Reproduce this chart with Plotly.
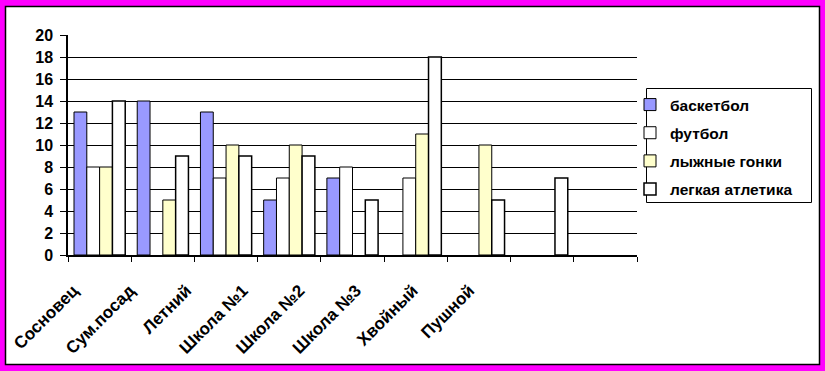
import plotly.graph_objects as go

categories = ["Сосновец", "Сум.посад", "Летний", "Школа №1", "Школа №2",
              "Школа №3", "Хвойный", "Пушной", " "]
series_names = ["баскетбол", "футбол", "лыжные гонки", "легкая атлетика"]
basketball = [13, 14, 13, 5, 7, None, None, None, None]
football = [8, None, 7, 7, 8, 7, None, None, None]
skiing = [8, 5, 10, 10, None, 11, 10, None, None]
athletics = [14, 9, 9, 9, 5, 18, 5, 7, None]
y_ticks = list(range(0, 21, 2))

colors = ["#9999FF", "#FFFFFF", "#FFFFCC", "#FFFFFF"]
values = [basketball, football, skiing, athletics]

W, H = 825, 371
L, R, T, B = 68, 188, 35, 116
pw, ph = W - L - R, H - T - B

fig = go.Figure()
for i, (name, vals, col) in enumerate(zip(series_names, values, colors)):
    fig.add_trace(go.Bar(
        x=categories, y=vals, name=name, legendgroup=str(i),
        marker=dict(color=col, line=dict(color="black", width=1.5 if i == 3 else 1)),
    ))

label_idx = list(range(len(categories)))
# invisible carrier trace so the label axis (x2) is drawn
fig.add_trace(go.Scatter(
    x=label_idx, y=[None] * len(label_idx), xaxis="x2", yaxis="y",
    mode="markers", showlegend=False, hoverinfo="skip",
))

def px_x(p):
    return (p - L) / pw

def px_y(p):
    return (H - B - p) / ph

font = "Liberation Sans, Arial, sans-serif"
fig.update_layout(
    template="none",
    width=W, height=H,
    margin=dict(l=L, r=R, t=T, b=B, autoexpand=False),
    paper_bgcolor="#FF00FF",
    plot_bgcolor="rgba(0,0,0,0)",
    barmode="group", bargap=0.19, bargroupgap=0,
    font=dict(family=font, size=16, color="black"),
    showlegend=True,
    legend=dict(
        x=px_x(630), y=px_y(88), xanchor="left", yanchor="top",
        borderwidth=0, bgcolor="rgba(0,0,0,0)",
        font=dict(family=font, size=15.5, color="black", weight="bold"),
        tracegroupgap=5, traceorder="grouped", itemwidth=30,
    ),
    shapes=[
        dict(type="rect", xref="paper", yref="paper", layer="below",
             x0=px_x(5.5), x1=px_x(819.5), y0=px_y(364.5), y1=px_y(6.5),
             fillcolor="white", line=dict(color="black", width=1.5)),
        dict(type="rect", xref="paper", yref="paper", layer="below",
             x0=px_x(646.5), x1=px_x(811.5), y0=px_y(202.5), y1=px_y(88.5),
             fillcolor="white", line=dict(color="black", width=1)),
    ],
    xaxis=dict(
        type="category", tickson="boundaries", showticklabels=False,
        ticks="outside", ticklen=5, tickcolor="black", tickwidth=1,
        showline=True, linecolor="black", linewidth=1.5,
        showgrid=False, automargin=False,
        range=[-0.5, len(categories) - 0.5],
    ),
    xaxis2=dict(
        overlaying="x", anchor="y", side="bottom", type="linear",
        range=[-0.092, 9.96], tickvals=label_idx, ticktext=categories,
        tickangle=-45, ticks="outside", ticklen=12, tickcolor="rgba(0,0,0,0)",
        showline=False, showgrid=False, zeroline=False,
        automargin=False, ticklabelstandoff=6,
        tickfont=dict(family=font, size=17, color="black", weight="bold"),
    ),
    yaxis=dict(
        range=[0, 20], tickvals=y_ticks, ticktext=[str(v) for v in y_ticks],
        ticks="outside", ticklen=6, tickcolor="black", tickwidth=1,
        showline=True, linecolor="black", linewidth=1.5,
        showgrid=True, gridcolor="black", gridwidth=1,
        zeroline=False, automargin=False, ticklabelstandoff=4,
        tickfont=dict(family=font, size=16, color="black", weight="bold"),
    ),
)
fig.write_html("out.html", config={"displayModeBar": False},
               post_script="document.body.style.margin='0px';")
